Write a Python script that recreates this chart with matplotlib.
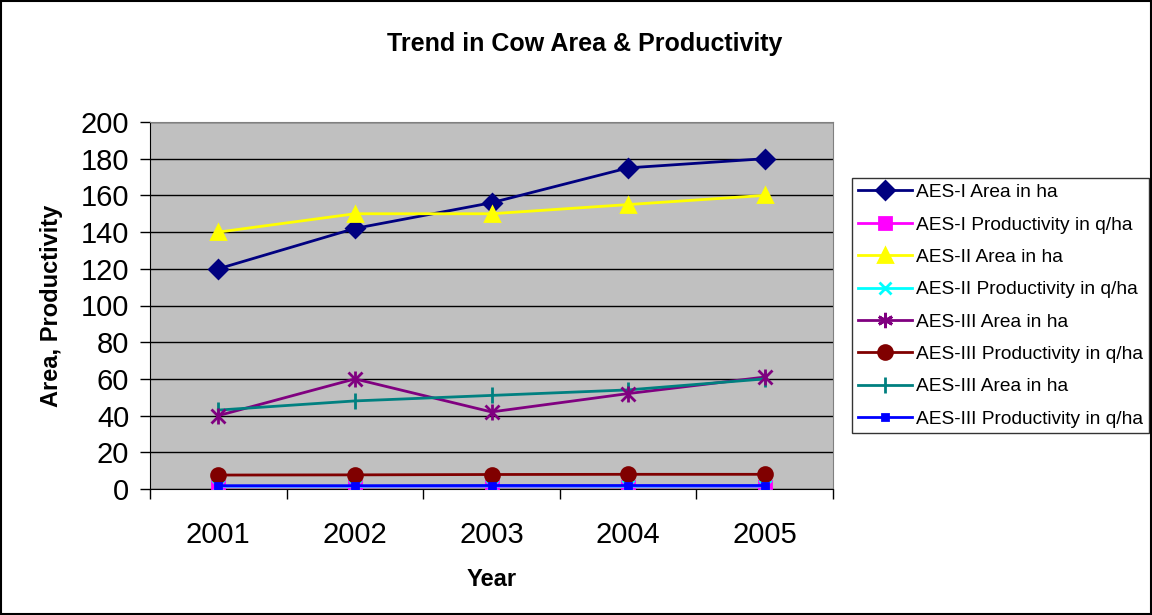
import matplotlib.pyplot as plt
import numpy as np

years = ["2001", "2002", "2003", "2004", "2005"]

aes1_area = [120, 142, 156, 175, 180]
aes1_prod = [1.2, 1.2, 1.3, 1.2, 1.3]
aes2_area = [140, 150, 150, 155, 160]
aes2_prod = [1.5, 1.5, 1.6, 1.5, 1.6]
aes3_area = [40, 60, 42, 52, 61]
aes3_prod = [7.6, 7.7, 7.9, 8.0, 8.0]
aes3_area_b = [43, 48, 51, 54, 60]
aes3_prod_b = [1.8, 1.8, 1.9, 1.9, 1.9]

plt.rcParams["font.family"] = ["Liberation Sans", "DejaVu Sans"]

fig = plt.figure(figsize=(11.52, 6.15), dpi=100)
ax = fig.add_axes([150 / 1152, 1 - 489 / 615, 683 / 1152, 367 / 615])
ax.set_facecolor("#c0c0c0")

x = np.arange(len(years))
series = [
    (aes1_area, "AES-I Area in ha", "#000080", "D", 9),
    (aes1_prod, "AES-I Productivity in q/ha", "#ff00ff", "s", 8),
    (aes2_area, "AES-II Area in ha", "#ffff00", "^", 10),
    (aes2_prod, "AES-II Productivity in q/ha", "#00ffff", "x", 9),
    (aes3_area, "AES-III Area in ha", "#800080", "*", 0),
    (aes3_prod, "AES-III Productivity in q/ha", "#800000", "o", 10),
    (aes3_area_b, "AES-III Area in ha", "#008080", "|", 12),
    (aes3_prod_b, "AES-III Productivity in q/ha", "#0000ff", "s", 4),
]
for vals, label, col, mk, ms in series:
    if mk == "*":
        # asterisk marker drawn as x plus vertical bar
        ax.plot(x, vals, color=col, lw=2, zorder=3)
        ax.plot(x, vals, ls="none", marker="x", ms=10, mew=2, color=col, zorder=4)
        ax.plot(x, vals, ls="none", marker="|", ms=12, mew=2, color=col, zorder=4)
        ax.plot([], [], color=col, lw=2, marker=(6, 2, 0), ms=11, mew=2, label=label)
    else:
        ax.plot(x, vals, color=col, lw=2, marker=mk, ms=ms, mew=2,
                mfc=col, mec=col, label=label, zorder=3)

ax.set_xlim(-0.5, 4.5)
ax.set_ylim(0, 200)
ax.set_yticks(np.arange(0, 201, 20))
ax.set_xticks(x)
ax.set_xticklabels(years)
ax.set_xticks(np.arange(-0.5, 4.6, 1), minor=True)
ax.tick_params(axis="x", which="major", length=0, pad=23, labelsize=21)
ax.tick_params(axis="x", which="minor", length=7, width=1, direction="out")
ax.tick_params(axis="y", length=7, width=1, direction="out", labelsize=21, pad=8)
ax.grid(axis="y", color="black", lw=1)
ax.set_axisbelow(True)
for side in ["top", "right"]:
    ax.spines[side].set_color("#808080")
ax.spines["bottom"].set_color("black")
ax.spines["left"].set_color("black")

ax.set_xlabel("Year", fontsize=17, fontweight="bold", labelpad=14)
ax.set_ylabel("Area, Productivity", fontsize=17, fontweight="bold", labelpad=13)
fig.text(585 / 1152, 1 - 44 / 615, "Trend in Cow Area & Productivity",
         ha="center", va="center", fontsize=18, fontweight="bold")

leg = fig.legend(loc="upper left", bbox_to_anchor=(852 / 1152, 1 - 178 / 615),
                 fontsize=13.8, frameon=True, fancybox=False, edgecolor="black",
                 handlelength=2.85, labelspacing=0.78, borderpad=0.3,
                 handletextpad=0.2, borderaxespad=0)
leg.get_frame().set_linewidth(1)

fig.patches.append(plt.Rectangle((0.001, 0.001), 0.998, 0.997, transform=fig.transFigure,
                                 fill=False, edgecolor="black", lw=1.5))

fig.savefig("out.png", dpi=100)
